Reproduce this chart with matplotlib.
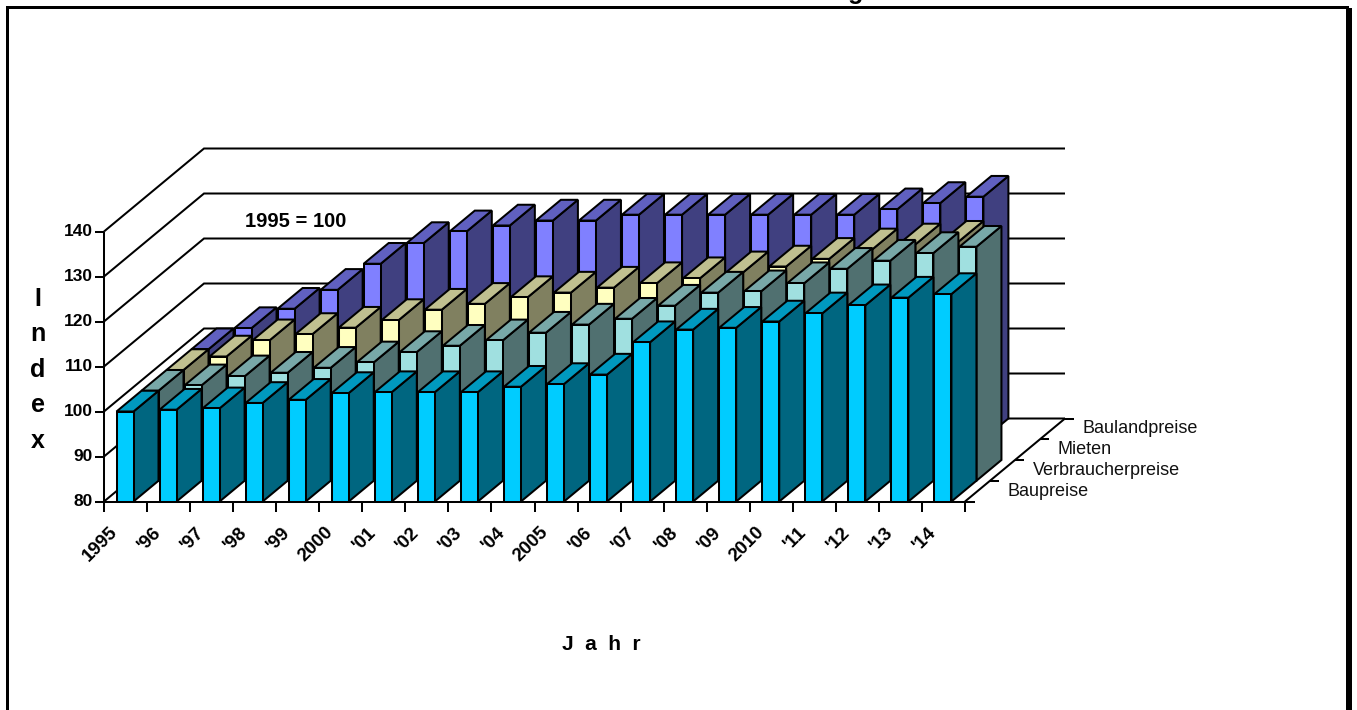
import matplotlib
matplotlib.use("Agg")
import matplotlib.pyplot as plt
from matplotlib.patches import Polygon, Rectangle

plt.rcParams["font.family"] = ["Liberation Sans", "DejaVu Sans"]

# index values, 1995 = 100
years = ["1995", "'96", "'97", "'98", "'99", "2000", "'01", "'02", "'03", "'04",
         "2005", "'06", "'07", "'08", "'09", "2010", "'11", "'12", "'13", "'14"]
baupreise = [100, 100.4, 100.7, 101.9, 102.6, 104.1, 104.3, 104.3, 104.3, 105.5,
             106.1, 108.2, 115.4, 118.2, 118.6, 120, 121.8, 123.6, 125.3, 126.1]
verbraucherpreise = [100, 101.2, 103.2, 104, 105.1, 106.3, 108.6, 110, 111.2, 112.9,
                     114.7, 116, 118.9, 121.8, 122.1, 123.9, 127.1, 128.9, 130.6, 132]
mieten = [100, 103, 106.6, 108, 109.4, 111.1, 113.4, 114.7, 116.2, 117.2,
          118.3, 119.3, 120.4, 121.7, 123, 124.7, 126.8, 127.9, 128.5]
baulandpreise = [100, 104.7, 109, 113.2, 119, 123.6, 126.2, 127.5, 128.6, 128.6,
                 129.9, 129.9, 129.9, 129.9, 129.9, 129.9, 131.1, 132.5, 133.9]
series_names = ["Baupreise", "Verbraucherpreise", "Mieten", "Baulandpreise"]
yticks = [80, 90, 100, 110, 120, 130, 140]

# face, top, side
colors = [("#00CCFF", "#0099BF", "#006680"),
          ("#A0E0E0", "#78A8A8", "#507070"),
          ("#FFFFC0", "#C0C090", "#808060"),
          ("#8080FF", "#6060C0", "#404080")]

W, H = 1357, 710
unit_x = 43.05   # px per year
unit_y = 4.5     # px per index point
org_x, org_y = 104, 501.5

fig = plt.figure(figsize=(W / 100, H / 100), dpi=100)
ax = fig.add_axes([0, 0, 1, 1])
ax.set_xlim(-org_x / unit_x, (W - org_x) / unit_x)
ax.set_ylim(80 - (H - org_y) / unit_y, 80 + org_y / unit_y)
ax.axis("off")

# one step back along the depth axis, in data units
step_x = 25 / unit_x
step_y = 20.75 / unit_y
depth_x = 4 * step_x
depth_y = 4 * step_y
n = len(years)
bar_w = 17 / unit_x
gap = 12.5 / unit_x
lw = 1.45


def line(xs, ys, width=1.45, z=1):
    ax.plot(xs, ys, color="black", lw=width, solid_capstyle="butt",
            solid_joinstyle="miter", zorder=z)


# wall grid lines
for t in yticks:
    line([0, depth_x, n + depth_x], [t, t + depth_y, t + depth_y])
    line([-9 / unit_x, 0], [t, t], z=8)

# axes lines and ticks
line([0, 0], [80 - 10 / unit_y, 140], z=8)
line([-9 / unit_x, n + 10 / unit_x], [80, 80], z=8)
line([n, n + depth_x], [80, 80 + depth_y], z=8)
for i in range(1, n + 1):
    line([i, i], [80, 80 - 10 / unit_y], z=8)
for s in range(1, 5):
    line([n + s * step_x, n + s * step_x + 9 / unit_x], [80 + s * step_y, 80 + s * step_y], z=8)


def draw_bar(i, s, v, cols):
    x0 = i + gap + s * step_x
    x1 = x0 + bar_w
    b = 80 + s * step_y
    t = v + s * step_y
    z = 2 + (3 - s)
    face = [(x0, b), (x1, b), (x1, t), (x0, t)]
    top = [(x0, t), (x1, t), (x1 + step_x, t + step_y), (x0 + step_x, t + step_y)]
    side = [(x1, b), (x1 + step_x, b + step_y), (x1 + step_x, t + step_y), (x1, t)]
    for pts, c in zip((side, top, face), (cols[2], cols[1], cols[0])):
        ax.add_patch(Polygon(pts, closed=True, facecolor=c, edgecolor="black",
                             lw=lw, joinstyle="miter", zorder=z))


all_series = [baupreise, verbraucherpreise, mieten, baulandpreise]
for s in (3, 2, 1, 0):
    for i, v in enumerate(all_series[s]):
        draw_bar(i, s, v, colors[s])

# labels
for t in yticks:
    ax.text(-11 / unit_x, t, str(t), ha="right", va="center", fontsize=12.5, fontweight="bold")

for i, lab in enumerate(years):
    ax.text(i + 0.5 - 10 / unit_x, 80 - 28 / unit_y, lab, rotation=45, rotation_mode="anchor",
            ha="right", va="center", fontsize=13.5, fontweight="bold")

for s, name in enumerate(series_names):
    ax.text(n + (s + 0.5) * step_x + 30 / unit_x, 80 + (s + 0.5) * step_y - 0.0, name,
            ha="left", va="center", fontsize=13, color="#111111")

for k, ch in enumerate("Index"):
    ax.text(-66 / unit_x, 80 + (501 - (298 + k * 35.5)) / unit_y, ch, ha="center", va="center",
            fontsize=18, fontweight="bold")

ax.text((601 - org_x) / unit_x, 80 + (501 - 644) / unit_y, "J  a  h  r", ha="center", va="center",
        fontsize=15, fontweight="bold")
ax.text((245 - org_x) / unit_x, 80 + (501 - 221) / unit_y, "1995 = 100", ha="left", va="center",
        fontsize=14.5, fontweight="bold", zorder=9)

# title runs off the top edge
ax.text((864 - org_x) / unit_x, 80 + (501 + 2) / unit_y, "Preisentwicklung", ha="right",
        va="baseline", fontsize=18, fontweight="bold", clip_on=True)


# outer frame: left, top and right only, open at the bottom
def frame_bar(x0, y0, x1, y1):
    fig.add_artist(Rectangle((x0 / W, 1 - y1 / H), (x1 - x0) / W, (y1 - y0) / H,
                             transform=fig.transFigure, facecolor="black", edgecolor="none"))


frame_bar(6, 6, 9, H)
frame_bar(6, 6, 1349, 8.5)
frame_bar(1346, 8, 1352, H)

fig.savefig("out.png", dpi=100)
